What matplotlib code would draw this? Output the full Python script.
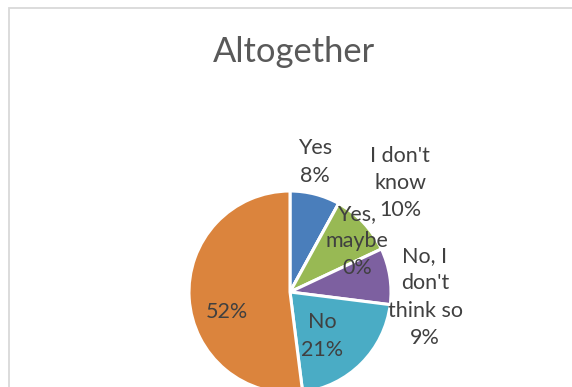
import matplotlib
matplotlib.use("Agg")
import matplotlib.pyplot as plt
from matplotlib.patches import Rectangle

# ---- data ----
categories = ["Yes", "Yes, maybe", "I don't know", "No, I don't think so", "No", ""]
values = [8, 0, 10, 9, 21, 52]
label_texts = ["Yes\n8%", "Yes,\nmaybe\n0%", "I don't\nknow\n10%",
               "No, I\ndon't\nthink so\n9%", "No\n21%", "52%"]
title = "Altogether"

# ---- styles / layout ----
colors = ["#4A7EBB", "#BE4B48", "#98B954", "#7D60A0", "#4AACC5", "#DB843D"]
W, H = 572, 387
label_pos = [(315, 162), (357, 241), (400, 183), (425, 297), (322, 336), (227, 312)]
FONT = "Lato"

fig = plt.figure(figsize=(W / 100, H / 100), dpi=100)
ax = fig.add_axes([0, 0, 1, 1])
ax.set_xlim(0, W)
ax.set_ylim(0, H)
ax.set_aspect("equal")
ax.axis("off")

# chart frame
ax.add_patch(Rectangle((9, -5), W + 10, H - 8 + 5, fill=False,
                       edgecolor="#D9D9D9", linewidth=1.3))

ax.pie(values, colors=colors, startangle=90, counterclock=False,
       center=(290, H - 292), radius=101, frame=True,
       wedgeprops=dict(edgecolor="white", linewidth=2.2))
ax.set_xlim(0, W)
ax.set_ylim(0, H)
ax.axis("off")

for txt, (x, y) in zip(label_texts, label_pos):
    ax.text(x, H - y, txt, ha="center", va="center", fontsize=15.5,
            family=FONT, color="#404040", linespacing=1.45)

ax.text(294, H - 62, title, ha="center", va="baseline", fontsize=24.8,
        family=FONT, color="#595959")

fig.savefig("out.png", dpi=100)
